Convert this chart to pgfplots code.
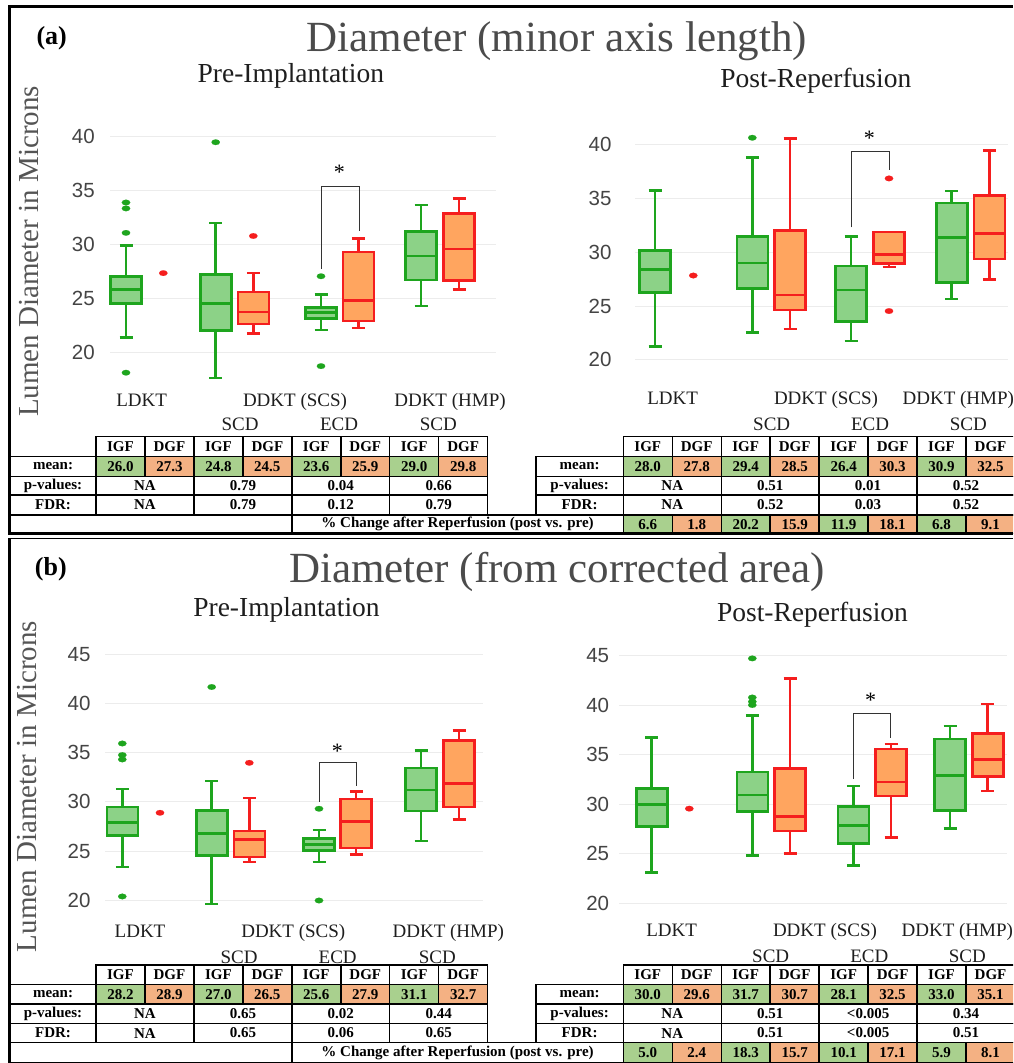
\documentclass[border=0pt]{standalone}
\usepackage{fontspec}
\setmainfont{Liberation Serif}
\newfontfamily\ticksans{Liberation Sans}
\usepackage{pgfplots}
\pgfplotsset{compat=1.18}

\definecolor{gL}{RGB}{30,165,30}
\definecolor{gF}{RGB}{140,210,135}
\definecolor{rL}{RGB}{245,30,30}
\definecolor{oF}{RGB}{255,165,95}
\definecolor{tg}{RGB}{169,208,142}
\definecolor{to}{RGB}{244,177,131}
\definecolor{gridc}{RGB}{236,236,236}
\definecolor{tickc}{RGB}{68,68,68}
\definecolor{titc}{RGB}{75,75,75}
\definecolor{labc}{RGB}{30,30,30}
\definecolor{ylabc}{RGB}{85,85,85}

\pgfplotsset{
  panel/.style={
    scale only axis, anchor=south west, clip=false,
    axis line style={draw=none}, major tick length=0pt, tick style={draw=none},
    ymajorgrids, grid style={draw=gridc, line width=1pt},
    /pgf/number format/assume math mode=true,
    yticklabel style={font=\ticksans\fontsize{20.5}{20.5}\selectfont, text=tickc, anchor=east, inner sep=0pt},
    xticklabel style={font=\fontsize{19}{19}\selectfont, text=labc, anchor=base, inner sep=0pt},
  },
  gbox/.style={draw=gL, fill=gF, line width=2.6pt, line join=miter, mark=none},
  rbox/.style={draw=rL, fill=oF, line width=2.6pt, line join=miter, mark=none},
  gline/.style={draw=gL, line width=2.6pt, mark=none, unbounded coords=jump},
  rline/.style={draw=rL, line width=2.6pt, mark=none, unbounded coords=jump},
  gout/.style={only marks, mark=*, mark size=2.8pt, mark options={fill=gL, draw=gL, line width=0.1pt, xscale=1.5}},
  rout/.style={only marks, mark=*, mark size=2.8pt, mark options={fill=rL, draw=rL, line width=0.1pt, xscale=1.5}},
}
\tikzset{
  brk/.style={draw=black!80, line width=1pt},
  tabl/.style={draw=black, line width=1.4pt},
  tabt/.style={font=\fontsize{15}{15}\selectfont\bfseries, inner sep=0pt, text=black},
  star/.style={font=\fontsize{22}{22}\selectfont, inner sep=0pt, yshift=-3.5pt},
}
% box: #1 g/r, #2 position, #3 lower whisker, #4 q1, #5 median, #6 q3, #7 upper whisker
\newcommand{\bx}[7]{%
  \pgfmathsetmacro\xl{#2-15.5}\pgfmathsetmacro\xr{#2+15.5}%
  \pgfmathsetmacro\cl{#2-6.5}\pgfmathsetmacro\cr{#2+6.5}%
  \edef\tmp{\noexpand\addplot[#1box] coordinates {(\xl,#4) (\xr,#4) (\xr,#6) (\xl,#6)} -- cycle;%
    \noexpand\addplot[#1line] coordinates {(#2,#6) (#2,#7) (nan,nan) (\cl,#7) (\cr,#7) (nan,nan) (#2,#4) (#2,#3) (nan,nan) (\cl,#3) (\cr,#3) (nan,nan) (\xl,#5) (\xr,#5)};}%
  \tmp}
\def\cw{48.96}
% #1 x0 of data columns, #2 x0 of label column, #3 means, #4 p-values, #5 FDR
\newcommand{\drawtable}[5]{%
  \foreach \t [count=\i from 0] in {IGF,DGF,IGF,DGF,IGF,DGF,IGF,DGF} {
    \draw[tabl] ({#1+\cw*\i},\yb) rectangle ({#1+\cw*(\i+1)},\ya);
    \node[tabt] at ({#1+\cw*(\i+0.5)},{(\ya+\yb)/2}) {\t};
  }
  \foreach \t [count=\i from 0] in {#3} {
    \ifodd\i \def\cc{to}\else\def\cc{tg}\fi
    \filldraw[tabl, fill=\cc] ({#1+\cw*\i},\yc) rectangle ({#1+\cw*(\i+1)},\yb);
    \node[tabt] at ({#1+\cw*(\i+0.5)},{(\yb+\yc)/2}) {\t};
  }
  \foreach \t [count=\i from 0] in {#4} {
    \draw[tabl] ({#1+2*\cw*\i},\yd) rectangle ({#1+2*\cw*(\i+1)},\yc);
    \node[tabt] at ({#1+2*\cw*(\i+0.5)},{(\yc+\yd)/2}) {\t};
  }
  \foreach \t [count=\i from 0] in {#5} {
    \draw[tabl] ({#1+2*\cw*\i},\ye) rectangle ({#1+2*\cw*(\i+1)},\yd);
    \node[tabt] at ({#1+2*\cw*(\i+0.5)},{(\yd+\ye)/2}) {\t};
  }
  \draw[tabl] (#2,\yc) rectangle (#1,\yb);
  \node[tabt] at ({(#1+#2)/2},{(\yb+\yc)/2}) {mean:};
  \draw[tabl] (#2,\yd) rectangle (#1,\yc);
  \node[tabt] at ({(#1+#2)/2},{(\yc+\yd)/2}) {p-values:};
  \draw[tabl] (#2,\ye) rectangle (#1,\yd);
  \node[tabt] at ({(#1+#2)/2},{(\yd+\ye)/2}) {FDR:};
}
% #1 x0 of right data columns, #2 list
\newcommand{\pctrow}[2]{%
  \draw[tabl] (10,\yf) rectangle (291.8,\ye);
  \draw[tabl] (291.8,\yf) rectangle (#1,\ye);
  \node[tabt] at ({(291.8+#1)/2},{(\ye+\yf)/2}) {\% Change after Reperfusion (post vs. pre)};
  \foreach \t [count=\i from 0] in {#2} {
    \ifodd\i \def\cc{to}\else\def\cc{tg}\fi
    \filldraw[tabl, fill=\cc] ({#1+\cw*\i},\yf) rectangle ({#1+\cw*(\i+1)},\ye);
    \node[tabt] at ({#1+\cw*(\i+0.5)},{(\ye+\yf)/2}) {\t};
  }
}

\begin{document}
\begin{tikzpicture}
\useasboundingbox (0pt,0pt) rectangle (1013pt,1063pt);
\clip (0pt,0pt) rectangle (1013pt,1063pt);
\fill[white] (0pt,0pt) rectangle (1013pt,1063pt);

% ================= (a) Pre-Implantation =================
\begin{axis}[panel, at={(110pt,673.3pt)}, width=386pt, height=269.1pt,
  xmin=110, xmax=496, ymin=16.5, ymax=41.5, ytick={20,25,30,35,40},
  yticklabel style={xshift=-15pt},
  xtick={240,339,438.3}, xticklabels={SCD,ECD,SCD}, xticklabel style={yshift=-40.8pt},
  extra x ticks={141.7,295,450}, extra x tick labels={LDKT,DDKT (SCS),DDKT (HMP)},
  extra x tick style={xticklabel style={yshift=24.1pt}}]
\bx{g}{126}{21.34}{24.48}{25.82}{27.01}{29.89}
\addplot[gout] coordinates {(126,33.89) (126,33.34) (126,31.07) (126,18.08)};
\addplot[rout] coordinates {(163.3,27.33)};
\bx{g}{215.7}{17.6}{21.98}{24.48}{27.2}{32.0}
\addplot[gout] coordinates {(215.7,39.49)};
\bx{r}{253.3}{21.73}{22.62}{23.71}{25.57}{27.33}
\addplot[rout] coordinates {(253.3,30.78)};
\bx{g}{321}{22.05}{23.1}{23.65}{24.13}{25.34}
\addplot[gout] coordinates {(321,27.04) (321,18.69)};
\bx{r}{358.3}{22.24}{22.88}{24.8}{29.28}{30.53}
\bx{g}{421}{24.29}{26.69}{28.93}{31.17}{33.66}
\bx{r}{459}{25.82}{26.62}{29.57}{32.86}{34.24}
\draw[brk] (axis cs:321.7,27.74) -- (axis cs:321.7,35.39) -- (axis cs:359.3,35.39) -- (axis cs:359.3,31.26);
\node[star] at (axis cs:339.3,37.02) {*};
\end{axis}

% ================= (a) Post-Reperfusion =================
\begin{axis}[panel, at={(635pt,665.4pt)}, width=373pt, height=269.1pt,
  xmin=635, xmax=1008, ymin=16.5, ymax=41.5, ytick={20,25,30,35,40},
  yticklabel style={xshift=-23.3pt},
  xtick={771.7,870,968.3}, xticklabels={SCD,ECD,SCD}, xticklabel style={yshift=-32.9pt},
  extra x ticks={672.7,826,958.3}, extra x tick labels={LDKT,DDKT (SCS),DDKT (HMP)},
  extra x tick style={xticklabel style={yshift=25.8pt}}]
\bx{g}{655}{21.22}{26.24}{28.38}{30.14}{35.74}
\addplot[rout] coordinates {(693.3,27.84)};
\bx{g}{752.3}{22.56}{26.62}{29.02}{31.49}{38.82}
\addplot[gout] coordinates {(752.3,40.64)};
\bx{r}{790}{22.88}{24.64}{26.02}{32.0}{40.58}
\bx{g}{851}{21.76}{23.58}{26.5}{28.74}{31.49}
\bx{r}{889}{28.64}{28.96}{29.82}{31.9}{31.9}
\addplot[rout] coordinates {(889,36.86) (889,24.54)};
\bx{g}{951.7}{25.66}{27.2}{31.36}{34.56}{35.68}
\bx{r}{989.3}{27.46}{29.38}{31.74}{35.26}{39.46}
\draw[brk] (axis cs:851,32.32) -- (axis cs:851,39.36) -- (axis cs:889.3,39.36) -- (axis cs:889.3,37.66);
\node[star] at (axis cs:869.3,40.96) {*};
\end{axis}

% ================= (b) Pre-Implantation =================
\begin{axis}[panel, at={(105pt,147.7pt)}, width=378pt, height=276.0pt,
  xmin=105, xmax=483, ymin=18.5, ymax=46.5, ytick={20,25,30,35,40,45},
  yticklabel style={xshift=-14.3pt},
  xtick={239,337.7,437.3}, xticklabels={SCD,ECD,SCD}, xticklabel style={yshift=-48.1pt},
  extra x ticks={140,293.3,448.3}, extra x tick labels={LDKT,DDKT (SCS),DDKT (HMP)},
  extra x tick style={xticklabel style={yshift=25.5pt}}]
\bx{g}{122.3}{23.38}{26.62}{27.93}{29.48}{31.31}
\addplot[gout] coordinates {(122.3,35.93) (122.3,34.76) (122.3,34.31) (122.3,20.41)};
\addplot[rout] coordinates {(160,28.9)};
\bx{g}{211.7}{19.66}{24.55}{26.79}{29.14}{32.14}
\addplot[gout] coordinates {(211.7,41.66)};
\bx{r}{249.3}{23.9}{24.41}{26.21}{27.07}{30.41}
\addplot[rout] coordinates {(249.3,33.97)};
\bx{g}{319}{23.9}{25.1}{25.69}{26.31}{27.14}
\addplot[gout] coordinates {(319,29.31) (319,20.0)};
\bx{r}{356}{24.66}{25.34}{28.0}{30.28}{31.03}
\bx{g}{421}{26.03}{29.07}{31.21}{33.45}{35.24}
\bx{r}{459}{28.21}{29.48}{31.9}{36.21}{37.24}
\draw[brk] (axis cs:319,30.0) -- (axis cs:319,33.97) -- (axis cs:356.7,33.97) -- (axis cs:356.7,31.66);
\node[star] at (axis cs:337.3,35.52) {*};
\end{axis}

% ================= (b) Post-Reperfusion =================
\begin{axis}[panel, at={(619.3pt,145.0pt)}, width=387.4pt, height=277.1pt,
  xmin=619.3, xmax=1006.7, ymin=18.5, ymax=46.5, ytick={20,25,30,35,40,45},
  yticklabel style={xshift=-10pt},
  xtick={770.7,869.3,967.3}, xticklabels={SCD,ECD,SCD}, xticklabel style={yshift=-44.4pt},
  extra x ticks={671.7,825,957.3}, extra x tick labels={LDKT,DDKT (SCS),DDKT (HMP)},
  extra x tick style={xticklabel style={yshift=25.5pt}}]
\bx{g}{651.7}{23.09}{27.73}{29.99}{31.61}{36.76}
\addplot[rout] coordinates {(689.3,29.55)};
\bx{g}{752.3}{24.84}{29.27}{30.92}{33.26}{38.99}
\addplot[gout] coordinates {(752.3,44.73) (752.3,40.78) (752.3,40.36) (752.3,40.02)};
\bx{r}{790}{25.01}{27.31}{28.76}{33.6}{42.7}
\bx{g}{853.3}{23.81}{26.04}{27.83}{29.79}{31.85}
\bx{r}{891}{26.63}{30.82}{32.23}{35.56}{36.07}
\bx{g}{950}{27.55}{29.38}{32.91}{36.59}{37.89}
\bx{r}{987.7}{31.33}{32.81}{34.53}{37.17}{40.12}
\draw[brk] (axis cs:853.3,32.53) -- (axis cs:853.3,39.16) -- (axis cs:890.7,39.16) -- (axis cs:890.7,36.69);
\node[star] at (axis cs:870.7,40.88) {*};
\end{axis}

\begin{scope}[x=1pt,y=1pt]
% titles and labels
\node[anchor=base, font=\fontsize{26}{26}\selectfont\bfseries] at (51.7,1018) {(a)};
\node[anchor=base, font=\fontsize{26}{26}\selectfont\bfseries] at (50.8,487.1) {(b)};
\node[anchor=base, font=\fontsize{43}{43}\selectfont, text=titc] at (557,1011.3) {Diameter (minor axis length)};
\node[anchor=base, font=\fontsize{43}{43}\selectfont, text=titc] at (557.2,480.3) {Diameter (from corrected area)};
\node[anchor=base, font=\fontsize{27.5}{27.5}\selectfont, text=labc] at (290.8,980.3) {Pre-Implantation};
\node[anchor=base, font=\fontsize{27.5}{27.5}\selectfont, text=labc] at (815.8,975.2) {Post-Reperfusion};
\node[anchor=base, font=\fontsize{27.5}{27.5}\selectfont, text=labc] at (286.5,446.3) {Pre-Implantation};
\node[anchor=base, font=\fontsize{27.5}{27.5}\selectfont, text=labc] at (812.5,441.2) {Post-Reperfusion};
\node[rotate=90, font=\fontsize{29}{29}\selectfont, text=ylabc] at (29.2,811.6) {Lumen Diameter in Microns};
\node[rotate=90, font=\fontsize{29}{29}\selectfont, text=ylabc] at (27.5,276.4) {Lumen Diameter in Microns};

% table (a)
\def\ya{626.3}\def\yb{606.7}\def\yc{586.7}\def\yd{567.8}\def\ye{548.1}\def\yf{529.2}
\drawtable{96}{10}{26.0,27.3,24.8,24.5,23.6,25.9,29.0,29.8}{NA,0.79,0.04,0.66}{NA,0.79,0.12,0.79}
\drawtable{623.3}{536}{28.0,27.8,29.4,28.5,26.4,30.3,30.9,32.5}{NA,0.51,0.01,0.52}{NA,0.52,0.03,0.52}
\pctrow{623.3}{6.6,1.8,20.2,15.9,11.9,18.1,6.8,9.1}

% table (b)
\def\ya{97.9}\def\yb{78.6}\def\yc{58.8}\def\yd{39.5}\def\ye{20.4}\def\yf{0.5}
\drawtable{96}{10}{28.2,28.9,27.0,26.5,25.6,27.9,31.1,32.7}{NA,0.65,0.02,0.44}{NA,0.65,0.06,0.65}
\drawtable{623.3}{536}{30.0,29.6,31.7,30.7,28.1,32.5,33.0,35.1}{NA,0.51,<0.005,0.34}{NA,0.51,<0.005,0.51}
\pctrow{623.3}{5.0,2.4,18.3,15.7,10.1,17.1,5.9,8.1}

% panel frames
\draw[line width=3pt] (8,1056.5) -- (1013,1056.5);
\draw[line width=3pt] (9.3,1056.5) -- (9.3,529.7);
\draw[line width=3pt] (8,529.7) -- (1013,529.7);
\draw[line width=1.5pt] (8,524.7) -- (1013,524.7);
\draw[line width=3pt] (9.3,524.7) -- (9.3,0);
\end{scope}
\end{tikzpicture}
\end{document}
